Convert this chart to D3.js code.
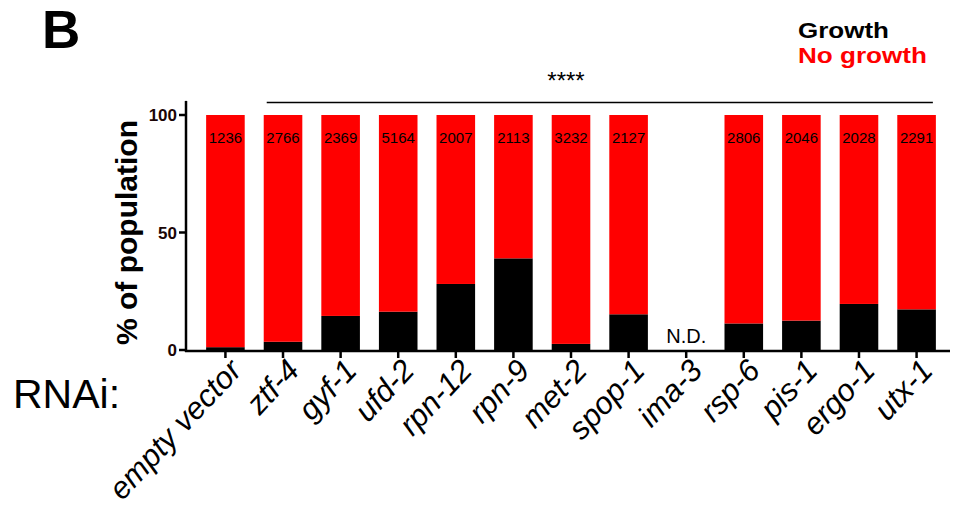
<!DOCTYPE html>
<html>
<head>
<meta charset="utf-8">
<script src="https://cdn.jsdelivr.net/npm/d3@7"></script>
<style>
  html, body { margin: 0; padding: 0; background: #fff; }
  svg { display: block; font-family: "Liberation Sans", Arial, Helvetica, sans-serif; }
</style>
</head>
<body>
<svg id="chart" width="953" height="508"></svg>
<script>
// RNAi conditions along the x axis
const categories = ["empty vector", "ztf-4", "gyf-1", "ufd-2", "rpn-12", "rpn-9", "met-2",
                    "spop-1", "ima-3", "rsp-6", "pis-1", "ergo-1", "utx-1"];
// % of population that grew / did not grow (null = not determined)
const growth   = [1.2, 3.5, 14.5, 16.3, 28.1, 39.0, 2.6, 15.2, null, 11.3, 12.5, 19.6, 17.3];
const noGrowth = [98.8, 96.5, 85.5, 83.7, 71.9, 61.0, 97.4, 84.8, null, 88.7, 87.5, 80.4, 82.7];
// number of animals scored per condition
const counts   = [1236, 2766, 2369, 5164, 2007, 2113, 3232, 2127, null, 2806, 2046, 2028, 2291];
const yTicks   = [0, 50, 100];
const seriesKeys = ["growth", "noGrowth"];
const seriesLabels = ["Growth", "No growth"];
const colors = { growth: "#000000", noGrowth: "#ff0000" };

const rows = categories.map((c, i) => ({
  name: c, growth: growth[i], noGrowth: noGrowth[i], n: counts[i]
}));

const svg = d3.select("#chart");

const x = d3.scaleBand().domain(categories).range([190, 952])
  .paddingInner(0.33).paddingOuter(0.28);
const y = d3.scaleLinear().domain([0, 100]).range([350, 115]);
const cx = d => x(d) + x.bandwidth() / 2;

// stacked bars
const stack = d3.stack().keys(seriesKeys);
const layers = stack(rows.filter(r => r.growth !== null));

svg.append("g").selectAll("g").data(layers).join("g")
  .attr("fill", d => colors[d.key])
  .selectAll("rect").data(d => d).join("rect")
  .attr("x", d => x(d.data.name))
  .attr("width", x.bandwidth())
  .attr("y", d => y(d[1]))
  .attr("height", d => y(d[0]) - y(d[1]));

// sample sizes inside the bars
svg.append("g").selectAll("text").data(rows.filter(r => r.n !== null)).join("text")
  .attr("x", d => cx(d.name))
  .attr("y", 143)
  .attr("text-anchor", "middle")
  .attr("font-size", 15)
  .attr("fill", "#000")
  .text(d => d.n);

// not determined
svg.append("g").selectAll("text").data(rows.filter(r => r.growth === null)).join("text")
  .attr("x", d => cx(d.name))
  .attr("y", 343)
  .attr("text-anchor", "middle")
  .attr("font-size", 20)
  .text("N.D.");

// y axis
const yAxis = svg.append("g");
yAxis.append("line")
  .attr("x1", 186).attr("x2", 186)
  .attr("y1", y(0) + 2).attr("y2", y(106))
  .attr("stroke", "#000").attr("stroke-width", 2.5);
yAxis.selectAll("line.tick").data(yTicks).join("line")
  .attr("class", "tick")
  .attr("x1", 179).attr("x2", 186)
  .attr("y1", d => y(d)).attr("y2", d => y(d))
  .attr("stroke", "#000").attr("stroke-width", 2.5);
yAxis.selectAll("text").data(yTicks).join("text")
  .attr("x", 177).attr("y", d => y(d))
  .attr("dy", "0.36em")
  .attr("text-anchor", "end")
  .attr("font-size", 17).attr("font-weight", "bold")
  .attr("fill", "#1a0505")
  .text(d => d);

svg.append("text")
  .attr("transform", `translate(137, ${y(50)}) rotate(-90)`)
  .attr("text-anchor", "middle")
  .attr("font-size", 30).attr("font-weight", "bold")
  .text("% of population");

// x axis
const xAxis = svg.append("g");
xAxis.append("line")
  .attr("x1", 185).attr("x2", 950)
  .attr("y1", 351).attr("y2", 351)
  .attr("stroke", "#000").attr("stroke-width", 2.5);
xAxis.selectAll("line.tick").data(categories).join("line")
  .attr("class", "tick")
  .attr("x1", cx).attr("x2", cx)
  .attr("y1", 351).attr("y2", 358)
  .attr("stroke", "#000").attr("stroke-width", 2.5);
xAxis.selectAll("text").data(categories).join("text")
  .attr("transform", d => `translate(${cx(d) + 2}, 357) rotate(-47)`)
  .attr("text-anchor", "end")
  .attr("dy", "0.7em")
  .attr("font-size", 31).attr("font-style", "italic")
  .text(d => d);

svg.append("text")
  .attr("x", 13).attr("y", 408)
  .attr("font-size", 41)
  .text("RNAi:");

// significance bracket
svg.append("line")
  .attr("x1", x("ztf-4") + 3).attr("x2", x("utx-1") + x.bandwidth() - 3)
  .attr("y1", 102.5).attr("y2", 102.5)
  .attr("stroke", "#000").attr("stroke-width", 1.5);
svg.append("text")
  .attr("x", 566).attr("y", 89)
  .attr("text-anchor", "middle")
  .attr("font-size", 24)
  .text("****");

// panel letter
svg.append("text")
  .attr("x", 42).attr("y", 48)
  .attr("font-size", 53).attr("font-weight", "bold")
  .text("B");

// legend
const legendWidths = [91, 129];
svg.append("g").selectAll("text").data(seriesKeys).join("text")
  .attr("x", 798)
  .attr("y", (d, i) => 38 + i * 25)
  .attr("font-size", 21.5).attr("font-weight", "bold")
  .attr("textLength", (d, i) => legendWidths[i])
  .attr("lengthAdjust", "spacingAndGlyphs")
  .attr("fill", d => colors[d])
  .text((d, i) => seriesLabels[i]);
</script>
</body>
</html>
